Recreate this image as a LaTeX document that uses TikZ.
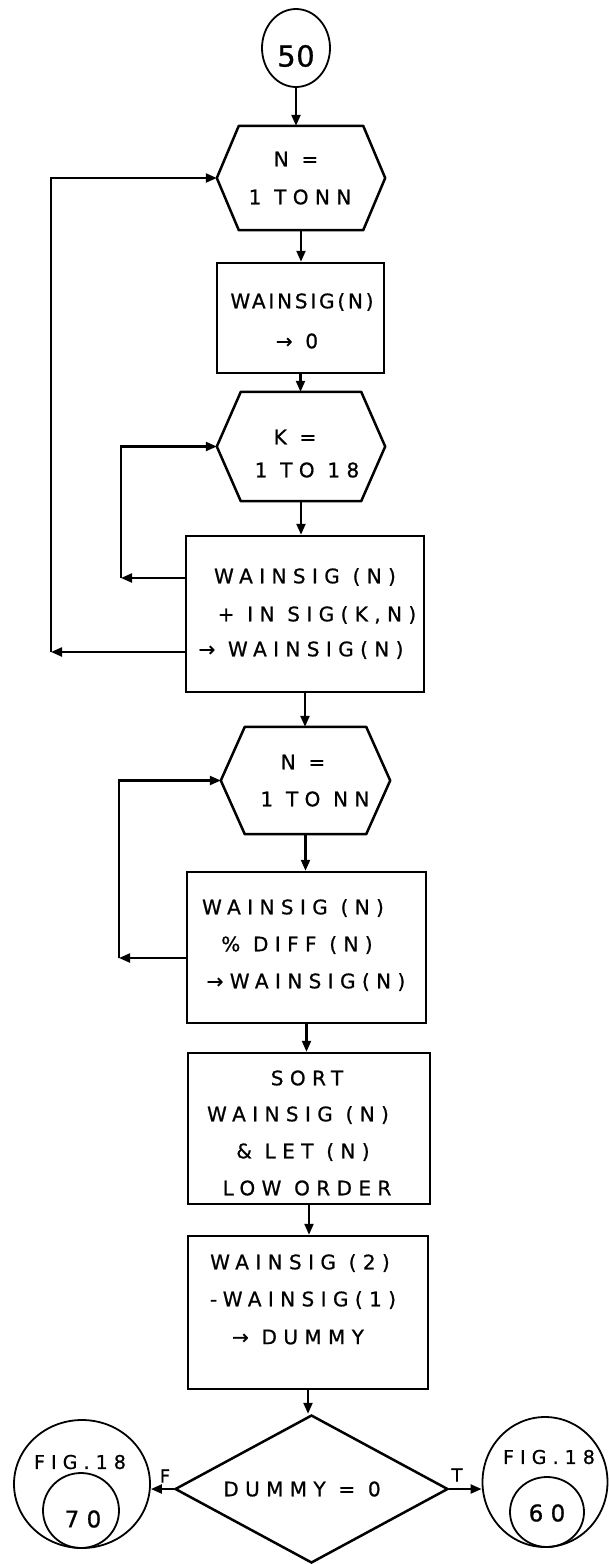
\documentclass[tikz,border=0pt]{standalone}
\usepackage{fontspec}
\setmainfont{DejaVu Sans}[LetterSpace=32, FakeBold=0.8]
\usetikzlibrary{arrows.meta,shapes.geometric}
\newcommand\hexpath[2]{%
  \draw[line width=2.5pt, line join=round] (#1.west) -- ([xshift=#2]#1.north west) -- ([xshift=-#2]#1.north east)
    -- (#1.east) -- ([xshift=-#2]#1.south east) -- ([xshift=#2]#1.south west) -- cycle;}
\newcommand\tight{\addfontfeatures{LetterSpace=14}}
\newcommand\notrack{\addfontfeatures{LetterSpace=2}}
\begin{document}
\begin{tikzpicture}[x=1pt,y=-1pt,
  every node/.style={inner sep=0pt},
  frame/.style={draw, line width=2.5pt, rectangle},
  hexarea/.style={rectangle},
  ring/.style={draw, ellipse, line width=1.8pt},
  dec/.style={draw, diamond, line width=2.5pt},
  txt/.style={font=\fontsize{20}{24}\selectfont},
  big/.style={font=\fontsize{29}{34}\selectfont\notrack},
  mid/.style={font=\fontsize{23}{27}\selectfont},
  fig/.style={font=\fontsize{19}{22}\selectfont},
  lbl/.style={font=\fontsize{18}{21}\selectfont},
  conn/.style={line width=2.2pt, -{Triangle[length=11pt,width=9pt]}}]
\useasboundingbox (0,0) rectangle (609,1564);

% start connector
\node[ring, minimum width=68pt, minimum height=78pt] (c50) at (296,48) {};
\node[big] (t50) at (296,56) {50};

% hexagon 1
\node[hexarea, minimum width=168pt, minimum height=104pt] (h1) at (301,178) {};
\hexpath{h1}{22pt}
\node[txt] (h1a) at (296,159) {N =};
\node[txt] (h1b) at (300,197) {1 TONN};

% box 1
\node[frame, minimum width=167pt, minimum height=110pt] (b1) at (300.5,318) {};
\node[txt,font=\fontsize{20}{24}\selectfont\tight] (b1a) at (302,302) {WAINSIG(N)};
\node[txt] (b1b) at (297,341) {→ 0};

% hexagon 2
\node[hexarea, minimum width=168pt, minimum height=109pt] (h2) at (301,446.5) {};
\hexpath{h2}{24pt}
\node[txt] (h2a) at (295,437) {K =};
\node[txt] (h2b) at (307,470) {1 TO 18};

% box 2
\node[frame, minimum width=238pt, minimum height=156pt] (b2) at (305,614) {};
\node[txt] (b2a) at (305,577) {WAINSIG (N)};
\node[txt] (b2b) at (317,615) {+ IN SIG(K,N)};
\node[txt] (b2c) at (301,650) {→ WAINSIG(N)};

% hexagon 3
\node[hexarea, minimum width=169pt, minimum height=107pt] (h3) at (305.5,780.5) {};
\hexpath{h3}{24pt}
\node[txt] (h3a) at (303,762) {N =};
\node[txt] (h3b) at (315,799) {1 TO NN};

% box 3
\node[frame, minimum width=239pt, minimum height=151pt] (b3) at (306.5,947.5) {};
\node[txt] (b3a) at (293,908) {WAINSIG (N)};
\node[txt] (b3b) at (297,945) {\% DIFF (N)};
\node[txt] (b3c) at (306,982) {→WAINSIG(N)};

% box 4
\node[frame, minimum width=242pt, minimum height=151pt] (b4) at (309,1128.5) {};
\node[txt] (b4a) at (307,1078) {SORT};
\node[txt] (b4b) at (298,1115) {WAINSIG (N)};
\node[txt] (b4c) at (303,1152) {\& LET (N)};
\node[txt] (b4d) at (307,1188) {LOW ORDER};

% box 5
\node[frame, minimum width=240pt, minimum height=153pt] (b5) at (308,1312.5) {};
\node[txt] (b5a) at (300,1263) {WAINSIG (2)};
\node[txt] (b5b) at (303,1300) {-WAINSIG(1)};
\node[txt] (b5c) at (298,1337) {→ DUMMY};

% decision
\node[dec, minimum width=273pt, minimum height=148pt] (dm) at (311.5,1489) {};
\node[txt] (dmt) at (302,1489) {DUMMY = 0};

% off-page connectors
\node[ring, minimum width=136pt, minimum height=128pt] (lc) at (82,1484) {};
\node[ring, minimum width=76pt, minimum height=75pt] (lci) at (81,1510.5) {};
\node[fig] (lct) at (80,1462) {FIG.18};
\node[mid] (lcn) at (83,1519) {70};
\node[ring, minimum width=125pt, minimum height=130pt] (rc) at (545,1482) {};
\node[ring, minimum width=74pt, minimum height=70pt] (rci) at (547,1512) {};
\node[fig] (rct) at (549,1457) {FIG.18};
\node[mid] (rcn) at (547,1513) {60};

\node[lbl] (lf) at (165,1476) {F};
\node[lbl] (lt) at (457,1475) {T};

% main flow
\draw[conn] (c50.south) -- (c50.south |- h1.north);
\draw[conn] (h1.south) -- (h1.south |- b1.north);
\draw[conn] (b1.south) -- (b1.south |- h2.north);
\draw[conn] (h2.south) -- (h2.south |- b2.north);
\draw[conn] (b2.south) -- (b2.south |- h3.north);
\draw[conn] (h3.south) -- (h3.south |- b3.north);
\draw[conn] (b3.south) -- (b3.south |- b4.north);
\draw[conn] (b4.south) -- (b4.south |- b5.north);
\draw[conn] (b5.south) -- (b5.south |- dm.north);

% loops
\coordinate (o1) at (51,652);
\draw[conn] ([yshift=-38pt]b2.west) -- (o1);
\draw[conn] (o1) |- (h1.west);
\coordinate (i1) at (121,578);
\draw[conn] ([yshift=36pt]b2.west) -- (i1);
\draw[conn] (i1) |- (h2.west);
\coordinate (i2) at (119,958);
\draw[conn] ([yshift=-10.5pt]b3.west) -- (i2);
\draw[conn] (i2) |- (h3.west);

% branches
\draw[conn] (dm.west) -- (dm.west -| lc.east);
\draw[conn] (dm.east) -- (dm.east -| rc.west);
\end{tikzpicture}
\end{document}
